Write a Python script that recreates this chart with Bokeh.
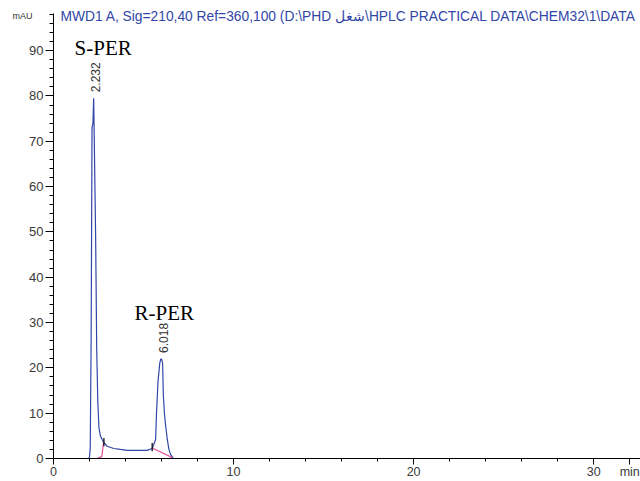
import math
from bokeh.plotting import figure
from bokeh.models import (Range1d, Label, ColumnDataSource, SingleIntervalTicker, FixedTicker,
                          LinearAxis)
from bokeh.embed import file_html
from bokeh.resources import INLINE
from bokeh.core.properties import value

# ---- data ----
time_min = [0.0, 1.95, 2.00, 2.04, 2.09, 2.14, 2.19, 2.232, 2.28, 2.34, 2.40, 2.46, 2.52,
            2.60, 2.70, 2.80, 2.98, 3.35, 3.72, 4.10, 5.20, 5.48, 5.57, 5.67, 5.72, 5.80,
            5.90, 5.96, 6.018, 6.06, 6.10, 6.16, 6.22, 6.32, 6.41, 6.50, 6.59, 6.66, 32.6]
signal_mau = [0.0, 0.0, 0.3, 2.2, 26.0, 73.0, 74.0, 79.5, 66.0, 49.0, 24.0, 12.7, 7.0,
              5.0, 4.2, 3.5, 2.7, 2.2, 2.0, 1.8, 1.8, 2.2, 3.1, 4.2, 10.0, 16.7,
              21.0, 22.0, 21.8, 21.0, 14.0, 10.0, 7.5, 4.2, 2.0, 0.9, 0.4, 0.0, 0.0]

baseline1_t = [2.40, 2.68, 2.78]
baseline1_v = [0.0, 0.4, 3.5]
baseline2_t = [5.48, 6.60]
baseline2_v = [2.3, 0.2]
marker_t = [2.80, 5.48]
marker_v = [3.6, 2.5]

peak_rt = [2.232, 6.018]
peak_height = [79.5, 22.0]
peak_text = ["2.232", "6.018"]

compound_names = ["S-PER", "R-PER"]
compound_rt = [1.17, 4.50]
compound_level = [90.5, 32.2]

x_major_ticks = [0, 10, 20, 30, 32]
x_minor_ticks = [2, 4, 6, 8, 12, 14, 16, 18, 22, 24, 26, 28]
x_tick_labels = {32: "min"}

y_unit_tick = [97.6]
y_unit_labels = {97.6: "mAU"}

title_text = "MWD1 A, Sig=210,40 Ref=360,100 (D:\\PHD شغل\\HPLC PRACTICAL DATA\\CHEM32\\1\\DATA"

BLUE = "#3246a8"
PINK = "#e0559c"
W, H = 640, 481
Y_AXIS_TOP = 98.2

p = figure(width=W, height=H, output_backend="svg", toolbar_location=None,
           x_range=Range1d(0, 32.6), y_range=Range1d(0, 101.06),
           min_border_left=53, min_border_right=0, min_border_top=0, min_border_bottom=22)
p.outline_line_color = None
p.xgrid.visible = False
p.ygrid.visible = False
p.background_fill_color = "white"
p.border_fill_color = "white"

p.xaxis.ticker = FixedTicker(ticks=x_major_ticks, minor_ticks=x_minor_ticks)
p.xaxis.major_label_overrides = x_tick_labels
p.yaxis.ticker = SingleIntervalTicker(interval=10, num_minor_ticks=5)
p.yaxis.bounds = (0, Y_AXIS_TOP)

for ax in (p.xaxis[0], p.yaxis[0]):
    ax.axis_line_color = "black"
    ax.major_tick_line_color = "black"
    ax.minor_tick_line_color = "black"
    ax.major_tick_in = 0
    ax.minor_tick_in = 0
    ax.major_label_text_font = "Liberation Sans"
    ax.major_label_text_color = "#3a3a3a"
p.xaxis.major_label_text_font_size = "12.5px"
p.yaxis.major_label_text_font_size = "13px"
p.xaxis.major_tick_out = 6
p.xaxis.minor_tick_out = 3
p.yaxis.major_tick_out = 8
p.yaxis.minor_tick_out = 4
p.xaxis.major_label_standoff = 0
p.yaxis.major_label_standoff = 2

# unit label of the y axis, placed at the top of the axis
unit_axis = LinearAxis(ticker=FixedTicker(ticks=y_unit_tick, minor_ticks=[]),
                       major_label_overrides=y_unit_labels,
                       axis_line_color=None, major_tick_line_color=None,
                       minor_tick_line_color=None, major_tick_out=0, minor_tick_out=0,
                       major_tick_in=0, minor_tick_in=0, major_label_standoff=-6,
                       major_label_text_font="Liberation Sans",
                       major_label_text_font_size="9px", major_label_text_color="#333333")
p.add_layout(unit_axis, "left")

# trace
p.line(time_min, signal_mau, line_color=BLUE, line_width=1.2)
# integration baselines
p.line(baseline1_t, baseline1_v, line_color=PINK, line_width=1.2)
p.line(baseline2_t, baseline2_v, line_color=PINK, line_width=1.2)
p.segment(x0=marker_t, y0=[v - 0.9 for v in marker_v], x1=marker_t, y1=[v + 0.9 for v in marker_v],
          line_color="black", line_width=1.2)

# retention-time labels
rt_src = ColumnDataSource(dict(x=peak_rt, y=[h + 1.3 for h in peak_height], t=peak_text))
p.text(x="x", y="y", text="t", source=rt_src, angle=math.pi / 2,
       text_align="left", text_baseline="middle", x_offset=2,
       text_font=value("Liberation Sans"), text_font_size="12px", text_color="#333333")

# compound names
cn_src = ColumnDataSource(dict(x=compound_rt, y=compound_level, t=compound_names))
p.text(x="x", y="y", text="t", source=cn_src, text_align="left", text_baseline="alphabetic",
       text_font=value("Liberation Serif"), text_font_size="21px", text_color="black")

p.add_layout(Label(x=0, y=Y_AXIS_TOP, x_offset=7, y_offset=-3, text=title_text, text_align="left",
                   text_baseline="middle", text_font="Liberation Sans", text_font_size="13.8px",
                   text_color=BLUE))

with open("out.html", "w", encoding="utf-8") as f:
    f.write(file_html(p, INLINE))
